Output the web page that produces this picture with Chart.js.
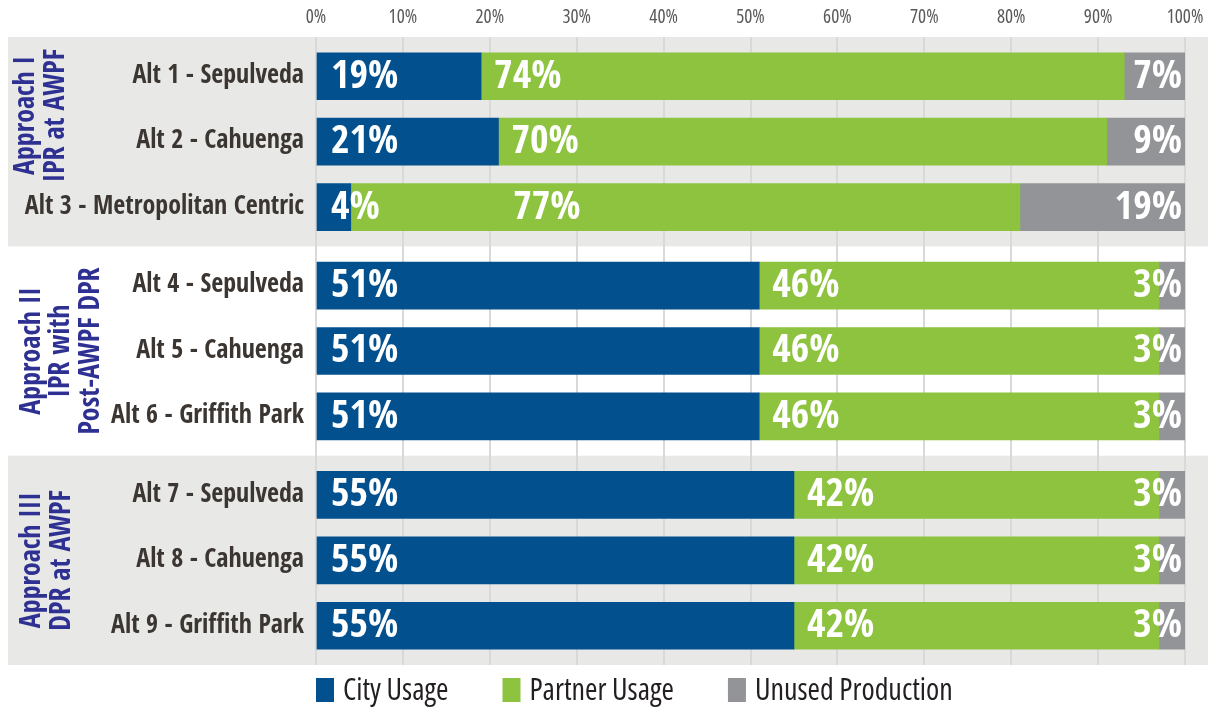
<!DOCTYPE html>
<html>
<head>
<meta charset="utf-8">
<script src="https://cdn.jsdelivr.net/npm/chart.js@4/dist/chart.umd.min.js"></script>
<style>
  html, body { margin: 0; padding: 0; background: #ffffff; }
  #wrap { width: 1220px; height: 707px; position: relative; }
</style>
</head>
<body>
<div id="wrap"><canvas id="c" width="1220" height="707"></canvas></div>
<script>
// ---- data ----
const categories = [
  'Alt 1 - Sepulveda', 'Alt 2 - Cahuenga', 'Alt 3 - Metropolitan Centric',
  'Alt 4 - Sepulveda', 'Alt 5 - Cahuenga', 'Alt 6 - Griffith Park',
  'Alt 7 - Sepulveda', 'Alt 8 - Cahuenga', 'Alt 9 - Griffith Park'
];
const rowPositions = [0, 1, 2, 3.2, 4.2, 5.2, 6.4, 7.4, 8.4];
const cityUsage = [19, 21, 4, 51, 51, 51, 55, 55, 55];
const partnerUsage = [74, 70, 77, 46, 46, 46, 42, 42, 42];
const unusedProduction = [7, 9, 19, 3, 3, 3, 3, 3, 3];
const seriesNames = ['City Usage', 'Partner Usage', 'Unused Production'];
const groupLabels = [
  ['Approach I', 'IPR at AWPF'],
  ['Approach II', 'IPR with', 'Post-AWPF DPR'],
  ['Approach III', 'DPR at AWPF']
];
const groupRanges = [[-0.6, 2.6], [2.6, 5.8], [5.8, 9.0]];
const groupLabelCenters = [0.6, 4.2, 7.4];
const xTickValues = [0, 10, 20, 30, 40, 50, 60, 70, 80, 90, 100];

// ---- styles ----
const COLORS = ['#03508f', '#8dc33f', '#939497'];
const BAND = '#e8e9e7';
const NARROW = '"Open Sans Condensed", "Roboto Condensed", "DejaVu Sans Condensed", sans-serif';
const REGULAR = '"Open Sans", "Roboto", sans-serif';

const toPoints = (arr) => arr.map((v, i) => ({ x: v, y: rowPositions[i] }));

const bandPlugin = {
  id: 'bands',
  beforeDraw(chart) {
    const { ctx } = chart;
    const y = chart.scales.y;
    ctx.save();
    groupRanges.forEach((r, i) => {
      if (i % 2 === 1) return;
      const top = y.getPixelForValue(r[0]);
      const bot = y.getPixelForValue(r[1]);
      ctx.fillStyle = BAND;
      ctx.fillRect(8, top, 1200, bot - top);
    });
    ctx.restore();
  }
};

const groupLabelPlugin = {
  id: 'groupLabels',
  afterDraw(chart) {
    const { ctx } = chart;
    const y = chart.scales.y;
    const lineX = [[27, 57], [33, 62, 92], [33, 63]];
    ctx.save();
    ctx.fillStyle = '#2e3192';
    ctx.font = 'bold 28px ' + NARROW;
    ctx.textAlign = 'center';
    ctx.textBaseline = 'middle';
    groupLabels.forEach((lines, g) => {
      const cy = y.getPixelForValue(groupLabelCenters[g]);
      lines.forEach((t, k) => {
        ctx.save();
        ctx.translate(lineX[g][k], cy);
        ctx.rotate(-Math.PI / 2);
        ctx.fillText(t, 0, 0);
        ctx.restore();
      });
    });
    ctx.restore();
  }
};

const barLabelPlugin = {
  id: 'barLabels',
  afterDatasetsDraw(chart) {
    const { ctx } = chart;
    const xs = chart.scales.x;
    const m0 = chart.getDatasetMeta(0).data;
    const m1 = chart.getDatasetMeta(1).data;
    const m2 = chart.getDatasetMeta(2).data;
    ctx.save();
    ctx.fillStyle = '#ffffff';
    ctx.font = 'bold 40px ' + NARROW;
    ctx.textBaseline = 'middle';
    for (let i = 0; i < categories.length; i++) {
      const b0 = m0[i], b1 = m1[i], b2 = m2[i];
      const cy = b0.y + 1;
      const cityTxt = cityUsage[i] + '%';
      ctx.textAlign = 'left';
      const cityX = b0.base + 14;
      ctx.fillText(cityTxt, cityX, cy);
      const overflow = cityX + ctx.measureText(cityTxt).width > b0.x;
      const pStart = Math.min(b1.base, b1.x);
      const px = overflow ? xs.getPixelForValue(22.7) : pStart + 13;
      ctx.fillText(partnerUsage[i] + '%', px, cy);
      ctx.textAlign = 'right';
      ctx.fillText(unusedProduction[i] + '%', Math.max(b2.x, b2.base) - 3, cy);
    }
    ctx.restore();
  }
};

const legendPlugin = {
  id: 'customLegend',
  afterDraw(chart) {
    const { ctx } = chart;
    ctx.save();
    ctx.font = '400 condensed 30px ' + REGULAR;
    ctx.textBaseline = 'middle';
    ctx.textAlign = 'left';
    let x = chart.chartArea.left;
    const cy = 690;
    seriesNames.forEach((name, i) => {
      ctx.fillStyle = COLORS[i];
      ctx.fillRect(x, cy - 12, 18, 24);
      ctx.fillStyle = '#231f20';
      ctx.fillText(name, x + 27, cy + 1);
      x += 27 + ctx.measureText(name).width + 54;
    });
    ctx.restore();
  }
};

new Chart(document.getElementById('c'), {
  type: 'bar',
  data: {
    datasets: [
      { label: seriesNames[0], data: toPoints(cityUsage), backgroundColor: COLORS[0] },
      { label: seriesNames[1], data: toPoints(partnerUsage), backgroundColor: COLORS[1] },
      { label: seriesNames[2], data: toPoints(unusedProduction), backgroundColor: COLORS[2] }
    ]
  },
  options: {
    responsive: false,
    animation: false,
    indexAxis: 'y',
    barThickness: 47,
    layout: { padding: { left: 0, right: 35, top: 0, bottom: 42 } },
    plugins: { legend: { display: false }, tooltip: { enabled: false } },
    scales: {
      x: {
        type: 'linear',
        position: 'top',
        min: 0,
        max: 100,
        stacked: true,
        afterBuildTicks: (s) => { s.ticks = xTickValues.map(v => ({ value: v })); },
        afterFit: (s) => { s.height = 37; },
        ticks: {
          callback: (v) => v + '%',
          color: '#595959',
          font: { family: REGULAR, size: 19, weight: '400 condensed' },
          padding: 8
        },
        grid: { color: '#d9d9d9', lineWidth: 2, drawTicks: false },
        border: { display: false }
      },
      y: {
        type: 'linear',
        min: groupRanges[0][0],
        max: groupRanges[2][1],
        offset: false,
        reverse: true,
        stacked: true,
        afterBuildTicks: (s) => { s.ticks = rowPositions.map(v => ({ value: v })); },
        afterFit: (s) => { s.width = 316; },
        ticks: {
          autoSkip: false,
          callback: (v) => categories[rowPositions.indexOf(v)],
          color: '#3b3632',
          font: { family: NARROW, size: 26, weight: 'bold' },
          padding: 12
        },
        grid: { display: false, drawTicks: false, offset: false },
        border: { display: false }
      }
    }
  },
  plugins: [bandPlugin, barLabelPlugin, groupLabelPlugin, legendPlugin]
});
</script>
</body>
</html>
